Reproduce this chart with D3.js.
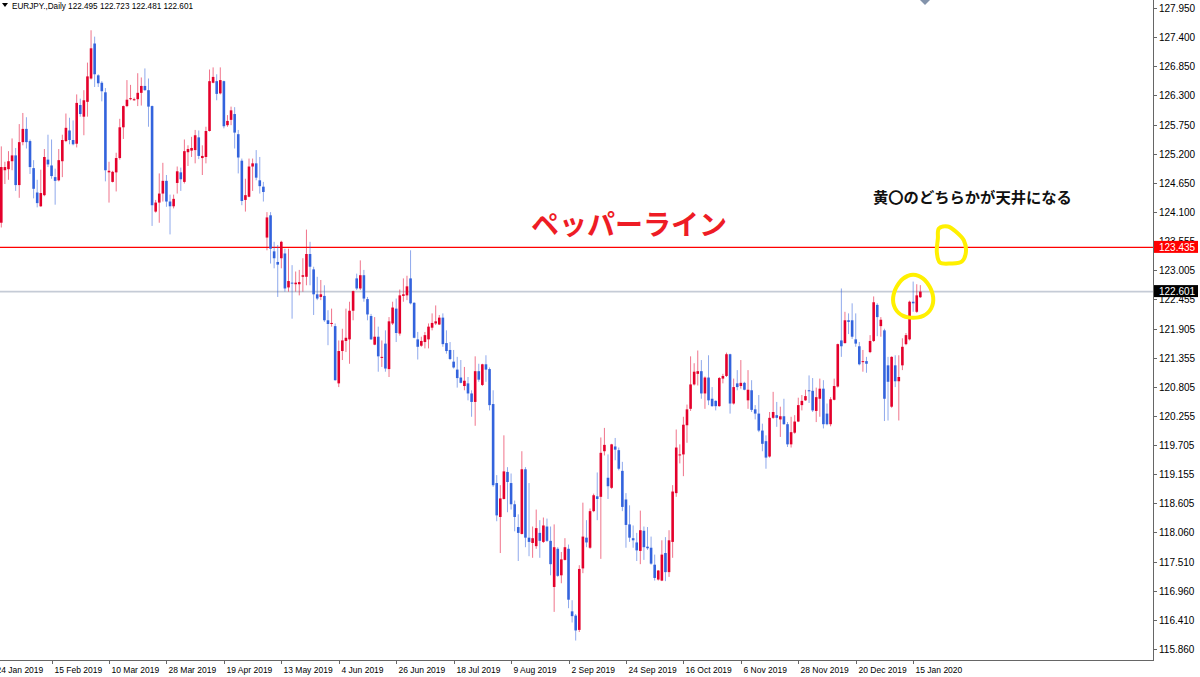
<!DOCTYPE html>
<html><head><meta charset="utf-8">
<script src="https://d3js.org/d3.v7.min.js"></script>
<style>body{margin:0;background:#fff;}svg{display:block;}</style>
</head><body>
<svg id="chart" width="1200" height="677"></svg>
<script>
// ---- DATA (EURJPY daily) ----
const opens=[
123.90,124.89,124.91,125.06,125.17,124.61,125.42,125.67,125.44,124.93,
124.47,124.21,124.42,125.09,124.98,124.76,124.70,125.06,125.44,125.64,
125.46,125.39,126.12,125.90,126.18,126.62,127.28,126.68,126.54,126.36,
124.85,124.67,124.85,125.12,125.70,126.10,126.23,126.21,126.23,126.35,
126.48,126.40,126.10,124.11,124.28,124.45,124.69,124.30,124.21,124.65,
124.85,124.67,125.23,125.26,125.27,125.51,125.12,125.14,125.63,126.54,
126.57,126.34,126.57,125.74,125.84,125.95,125.57,125.07,124.33,124.39,
124.96,125.02,124.70,124.58,123.62,124.04,123.36,123.16,123.23,123.32,
122.68,122.77,122.74,122.74,122.88,122.88,123.31,123.02,122.55,122.50,
122.52,122.06,121.99,121.95,120.87,121.48,121.67,121.70,122.24,122.85,
122.66,122.91,122.46,122.14,121.60,121.75,121.35,121.62,121.14,122.00,
122.28,121.81,122.52,122.53,122.85,122.39,121.70,121.58,121.65,121.70,
121.92,122.00,121.98,122.11,121.63,121.50,121.28,121.13,120.98,120.82,
120.87,120.68,120.52,121.10,120.84,121.23,121.14,120.48,118.99,118.35,
118.69,119.20,118.99,118.59,118.16,118.03,119.25,117.96,117.86,117.80,
118.05,117.88,118.17,117.90,117.03,117.75,117.25,117.54,117.75,116.57,
116.49,116.22,117.38,117.96,117.77,118.46,118.74,118.73,119.59,119.09,
118.90,119.68,119.61,119.22,118.68,118.21,117.95,117.87,117.71,118.09,
117.79,117.77,117.45,117.17,117.15,117.67,117.31,117.88,118.80,119.52,
119.53,120.08,120.39,120.85,121.05,121.10,120.68,120.98,120.58,120.54,
120.44,120.96,121.01,121.42,120.49,120.87,120.82,120.88,120.55,120.74,
120.38,120.30,119.98,119.78,119.49,120.22,120.27,120.19,120.25,120.10,
119.72,119.94,120.15,120.46,120.55,120.74,120.73,120.35,120.58,120.77,
120.30,120.10,120.56,120.81,121.68,121.63,122.06,122.06,121.70,121.57,
121.27,121.29,121.46,121.67,122.35,121.95,121.87,121.21,120.43,121.21,
120.91,121.21,121.61,121.70,122.41,122.22,122.495];
const highs=[
125.34,125.05,125.25,125.49,125.31,125.76,125.97,125.89,125.47,125.08,
124.71,124.90,125.29,125.56,125.47,124.92,125.29,125.56,125.96,125.88,
125.83,126.32,126.24,126.40,126.92,127.53,127.41,126.70,126.57,126.44,
125.05,124.88,125.22,125.86,126.11,126.59,126.50,126.26,126.72,126.64,
126.81,126.62,126.11,124.33,124.83,125.03,124.80,124.43,124.43,124.96,
124.94,125.47,125.36,125.52,125.65,125.64,125.36,125.71,126.79,126.83,
126.70,126.83,126.58,125.93,126.09,126.08,125.65,125.11,124.73,125.11,
125.11,125.27,125.14,124.67,124.10,124.10,123.54,123.48,123.56,123.41,
123.41,123.10,122.98,123.01,123.23,123.77,123.54,123.07,122.88,122.82,
122.72,122.25,122.28,122.00,121.68,121.90,122.28,122.41,122.62,122.94,
123.19,123.01,122.50,122.18,122.12,121.94,121.68,121.87,122.12,122.41,
122.47,122.64,122.85,122.90,123.38,122.40,121.84,121.75,121.84,122.00,
122.19,122.34,122.16,122.19,121.87,121.65,121.50,121.37,121.31,121.18,
120.99,120.74,121.38,121.24,121.24,121.40,121.17,120.74,119.14,118.95,
119.89,119.29,119.17,118.66,118.40,119.59,119.29,118.99,118.17,118.49,
118.29,118.34,118.32,118.17,118.21,117.78,117.69,117.95,117.83,116.78,
116.52,117.44,118.62,118.29,118.51,118.79,119.19,119.85,120.03,119.53,
119.73,119.84,119.66,119.39,118.80,118.57,118.19,118.05,118.47,118.17,
118.16,117.98,117.64,117.35,117.91,117.97,118.10,118.95,120.00,119.72,
120.24,120.47,121.38,121.25,121.49,121.31,121.00,121.40,120.80,120.55,
120.99,121.05,121.45,121.43,120.96,121.12,121.31,120.90,121.12,120.93,
120.46,120.65,120.11,119.89,120.33,120.71,120.52,120.43,120.58,120.14,
120.24,120.27,120.60,120.65,120.75,121.02,120.97,120.79,120.96,120.93,
120.49,120.61,120.96,121.62,122.66,122.22,122.19,122.38,122.19,121.65,
121.50,121.37,121.78,122.51,122.38,122.12,121.90,121.37,121.38,121.40,
121.40,121.72,121.82,122.43,122.79,122.74,122.723];
const lows=[
123.81,124.63,124.71,124.89,124.50,124.37,125.36,125.30,124.82,124.36,
124.19,124.20,124.40,124.95,124.73,124.24,124.68,124.76,125.42,125.38,
125.36,125.32,125.90,125.55,125.90,126.60,126.46,126.46,126.19,124.68,
124.28,124.66,124.49,125.09,125.48,126.08,126.21,126.20,126.10,126.11,
126.39,125.71,123.84,124.09,123.90,124.30,124.20,123.68,124.17,124.45,
124.50,124.64,124.97,125.14,125.02,125.10,124.80,125.02,125.62,126.53,
126.21,126.32,125.68,125.71,125.74,125.30,124.83,124.23,124.11,124.38,
124.50,124.70,124.45,124.30,123.38,123.13,123.04,122.50,123.04,122.60,
122.60,122.09,122.60,122.53,122.60,122.72,122.72,122.16,122.44,122.44,
122.03,121.59,121.94,120.92,120.80,121.31,121.46,121.24,122.06,122.63,
122.63,122.41,122.06,121.69,121.59,121.09,121.18,121.09,120.99,121.97,
121.65,121.77,122.41,122.44,122.36,121.72,121.32,121.56,121.53,121.53,
121.87,121.97,121.97,121.56,121.43,121.31,121.15,120.79,120.87,120.74,
120.55,120.24,120.07,120.90,120.82,120.90,120.36,118.92,118.27,117.67,
118.68,118.44,118.49,118.08,117.52,118.02,117.78,117.61,117.58,117.75,
117.58,117.86,117.88,117.25,116.56,117.22,117.10,117.53,116.63,116.36,
116.02,116.18,117.29,117.78,117.75,118.44,118.29,117.56,119.51,118.69,
118.88,119.42,119.23,118.46,117.77,117.88,117.77,117.52,117.46,117.54,
117.73,117.45,117.15,117.15,117.14,117.14,117.22,117.58,118.73,119.36,
119.12,119.75,120.35,120.83,120.83,120.58,120.39,120.46,120.43,120.36,
120.43,120.87,120.99,120.30,120.47,120.74,120.77,120.74,120.39,120.33,
120.19,119.95,119.59,119.26,119.47,120.20,120.05,119.86,120.09,119.67,
119.66,119.92,120.14,120.36,120.54,120.50,120.33,120.14,120.24,120.02,
120.08,120.06,120.55,120.79,121.37,121.62,121.80,121.71,121.56,121.21,
121.09,121.07,121.44,121.65,121.76,121.75,120.16,120.17,120.41,120.80,
120.17,121.12,121.59,121.68,122.22,122.20,122.481];
const closes=[
124.95,124.95,125.06,125.17,124.61,125.42,125.67,125.42,124.95,124.54,
124.27,124.46,125.14,125.00,124.78,124.69,125.08,125.46,125.69,125.46,
125.38,126.16,125.95,126.21,126.66,127.19,126.70,126.53,126.38,124.89,
124.88,124.86,125.12,125.70,126.10,126.22,126.25,126.23,126.35,126.48,
126.40,126.09,124.23,124.28,124.45,124.69,124.30,124.21,124.35,124.87,
124.72,125.25,125.29,125.31,125.55,125.16,125.16,125.63,126.57,126.65,
126.33,126.59,125.72,125.82,126.02,125.60,125.13,124.31,124.42,124.96,
125.02,124.75,124.59,124.48,124.00,123.41,123.23,123.11,123.54,122.66,
122.80,122.76,122.77,122.78,122.91,123.31,123.07,122.55,122.47,122.55,
122.06,121.99,122.01,120.93,121.48,121.68,121.73,122.24,122.61,122.66,
122.91,122.47,122.17,121.70,121.75,121.38,121.37,121.15,122.04,122.30,
121.82,122.53,122.55,122.70,122.38,121.73,121.56,121.67,121.78,121.94,
122.01,122.04,122.11,121.61,121.48,121.33,121.17,120.97,120.88,120.92,
120.68,120.52,121.10,120.94,121.23,121.13,120.46,118.95,118.38,118.70,
119.21,119.01,118.59,118.35,118.05,119.25,117.96,117.88,117.95,118.14,
117.90,118.19,117.90,117.46,117.78,117.24,117.55,117.78,116.79,116.48,
116.21,117.37,117.98,117.87,118.46,118.76,118.69,119.56,119.71,118.93,
119.72,119.62,119.26,118.54,118.20,117.96,117.91,117.72,118.10,117.78,
117.76,117.47,117.20,117.34,117.64,117.31,117.91,118.83,119.66,119.53,
120.09,120.38,120.85,121.09,121.10,120.68,120.98,120.55,120.44,120.44,
120.97,121.01,121.42,120.49,120.80,120.80,120.88,120.75,120.75,120.37,
120.30,119.98,119.73,119.47,120.22,120.33,120.22,120.25,120.10,119.72,
119.95,120.15,120.46,120.54,120.63,120.73,120.36,120.61,120.77,120.10,
120.10,120.57,120.82,121.61,121.57,122.06,122.03,121.75,121.62,121.23,
121.29,121.24,121.67,122.40,122.12,122.07,120.58,120.90,121.37,120.91,
120.99,121.56,121.78,122.41,122.38,122.53,122.601];

const yTickValues=[127.950,127.400,126.850,126.300,125.750,125.200,124.650,124.100,123.555,123.005,122.455,121.905,121.355,120.805,120.255,119.705,119.155,118.605,118.060,117.510,116.960,116.410,115.860];
const xTickLabels=["24 Jan 2019","15 Feb 2019","10 Mar 2019","28 Mar 2019","19 Apr 2019","13 May 2019","4 Jun 2019","26 Jun 2019","18 Jul 2019","9 Aug 2019","2 Sep 2019","24 Sep 2019","16 Oct 2019","6 Nov 2019","28 Nov 2019","20 Dec 2019","15 Jan 2020"];
const lastLabelBar=254, labelEvery=16;
const pepperLevel=123.435;
const lastPrice=122.601;
const symbolText="EURJPY.,Daily  122.495 122.723 122.481 122.601";
const titleText="ペッパーライン";
const noteText="黄〇のどちらかが天井になる";
// annotation ovals: centred on bar index / price
const ovals=[{bar:254.0,price:122.495},{bar:264.5,price:123.49}];

// ---- LAYOUT ----
const W=1200,H=677, plotR=1153, plotB=660;
const svg=d3.select("#chart");
const N=closes.length;
const x=d3.scaleLinear().domain([0,N-1]).range([1.3,1.3+3.59*(N-1)]);
const y=d3.scaleLinear().domain([115.86,127.95]).range([649,8]);
const RED="#e4002b", BLUE="#3363dd";
const font="'Liberation Sans', Arial, sans-serif";

svg.append("rect").attr("width",W).attr("height",H).attr("fill","#fff");
svg.append("defs").append("clipPath").attr("id","plot").append("rect")
  .attr("x",0).attr("y",0).attr("width",plotR).attr("height",plotB);

const bars=d3.range(N).map(i=>({i,o:opens[i],h:highs[i],l:lows[i],c:closes[i]}));
const col=d=>d.c>=d.o?RED:BLUE;

// level lines (drawn beneath the candles)
svg.append("line").attr("x1",0).attr("x2",plotR)
  .attr("y1",y(lastPrice)).attr("y2",y(lastPrice))
  .attr("stroke","#c5cbd6").attr("stroke-width",1.6);
svg.append("line").attr("x1",0).attr("x2",plotR)
  .attr("y1",y(pepperLevel)).attr("y2",y(pepperLevel))
  .style("stroke","rgb(255,0,0)").attr("stroke-width",1.3);

const g=svg.append("g").attr("clip-path","url(#plot)");
// candles
g.selectAll("line.wick").data(bars).join("line").attr("class","wick")
  .attr("x1",d=>x(d.i)).attr("x2",d=>x(d.i))
  .attr("y1",d=>y(d.h)).attr("y2",d=>y(d.l))
  .attr("stroke",col).attr("stroke-opacity",0.55).attr("stroke-width",1);
g.selectAll("rect.body").data(bars).join("rect").attr("class","body")
  .attr("x",d=>x(d.i)-1.3).attr("width",2.6)
  .attr("y",d=>y(Math.max(d.o,d.c)))
  .attr("height",d=>Math.max(1,Math.abs(y(d.o)-y(d.c))))
  .attr("fill",col);

// axes frame
svg.append("line").attr("x1",plotR+0.5).attr("x2",plotR+0.5).attr("y1",0).attr("y2",plotB)
  .attr("stroke","#666").attr("stroke-width",1);
svg.append("line").attr("x1",0).attr("x2",plotR+1).attr("y1",plotB+0.5).attr("y2",plotB+0.5)
  .attr("stroke","#666").attr("stroke-width",1);

// y axis
const ya=svg.append("g");
yTickValues.forEach(v=>{
  const yy=Math.round(y(v))+0.5;
  ya.append("line").attr("x1",plotR).attr("x2",plotR+4).attr("y1",yy).attr("y2",yy).attr("stroke","#666");
  ya.append("text").attr("x",1159).attr("y",yy+3.5).attr("font-family",font).attr("font-size",10)
    .attr("fill","#000").text(d3.format(".3f")(v));
});
function priceTag(v,bg){
  const yy=y(v);
  svg.append("rect").attr("x",plotR+1).attr("y",yy-6.5).attr("width",W-plotR-3).attr("height",12).attr("fill",bg);
  svg.append("text").attr("x",1159).attr("y",yy+3.5).attr("font-family",font).attr("font-size",10)
    .attr("fill","#fff").text(d3.format(".3f")(v));
}
priceTag(pepperLevel,"#ff0000");
priceTag(lastPrice,"#000");

// x axis
xTickLabels.forEach((t,k)=>{
  const bi=lastLabelBar-labelEvery*(xTickLabels.length-1-k);
  const xx=Math.round(x(bi))+0.5;
  svg.append("line").attr("x1",xx).attr("x2",xx).attr("y1",plotB).attr("y2",plotB+4).attr("stroke","#666");
  svg.append("text").attr("x",xx+2).attr("y",673).attr("font-family",font).attr("font-size",8.5)
    .attr("fill","#000").text(t);
});

// header
svg.append("path").attr("d","M2,3 L8,3 L5,7 Z").attr("fill","#000");
svg.append("text").attr("x",12).attr("y",9).attr("font-family",font).attr("font-size",8.5)
  .attr("textLength",181).attr("lengthAdjust","spacingAndGlyphs").attr("fill","#000").text(symbolText);
// chart shift marker
svg.append("path").attr("d","M920,0 L930,0 L925,5 Z").attr("fill","#8393ab");

// annotations
svg.append("text").attr("x",531).attr("y",235).attr("font-family","'Noto Sans CJK JP', sans-serif")
  .attr("font-weight",700).attr("font-size",28).attr("fill","#ee1c25").text(titleText);
svg.append("text").attr("x",873).attr("y",203).attr("font-family","'Noto Sans CJK JP', sans-serif")
  .attr("font-weight",700).attr("font-size",15.3).attr("fill","#111").text(noteText);

const yel="#fff000";
// oval 1: loose hand-drawn ring
const o1=ovals[0], c1=[x(o1.bar),y(o1.price)];
const ring=d3.range(-120,265,15).map(a=>{const r=a*Math.PI/180;const k=1+0.04*Math.sin(3*r);return [c1[0]+20*k*Math.cos(r),c1[1]+21.5*k*Math.sin(r)];});
svg.append("path").attr("d",d3.line().curve(d3.curveCatmullRom)(ring))
  .attr("fill","none").attr("stroke",yel).attr("stroke-width",4).attr("stroke-linecap","round");
// oval 2: D-shaped
const o2=ovals[1], c2=[x(o2.bar),y(o2.price)];
const dpts=[[-12,-16],[-3,-18],[6,-12],[13,-4],[15,8],[11,17],[0,19],[-11,18],[-14,8],[-13,-6]].map(p=>[c2[0]+p[0],c2[1]+p[1]]);
svg.append("path").attr("d",d3.line().curve(d3.curveCatmullRomClosed)(dpts))
  .attr("fill","none").attr("stroke",yel).attr("stroke-width",4);
</script>
</body></html>
